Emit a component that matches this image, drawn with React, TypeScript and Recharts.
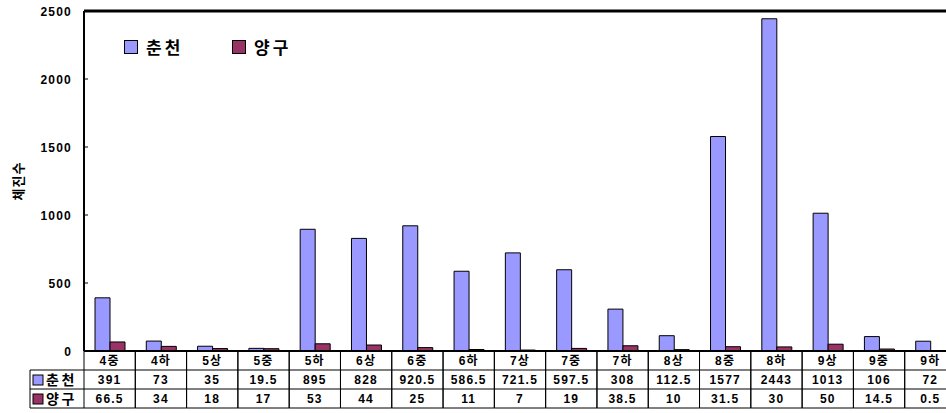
import React from "react";
import {
  BarChart,
  Bar,
  XAxis,
  YAxis,
  Legend,
  ReferenceLine,
} from "recharts";

const categories = [
  "4중", "4하", "5상", "5중", "5하", "6상", "6중", "6하", "7상",
  "7중", "7하", "8상", "8중", "8하", "9상", "9중", "9하",
];
const chuncheon = [
  391, 73, 35, 19.5, 895, 828, 920.5, 586.5, 721.5, 597.5, 308, 112.5, 1577,
  2443, 1013, 106, 72,
];
const yanggu = [
  66.5, 34, 18, 17, 53, 44, 25, 11, 7, 19, 38.5, 10, 31.5, 30, 50, 14.5, 0.5,
];
const yTicks = [0, 500, 1000, 1500, 2000, 2500];
const seriesNames = ["춘천", "양구"];
const yLabel = "체진수";

const BLUE = "#9999ff";
const RED = "#993366";
const FONT = "'Liberation Sans', Arial, 'Noto Sans CJK KR', sans-serif";

const CHART_W = 958;
const CHART_H = 413;
const Y_W = 84;
const M_RIGHT = 2;
const BAND = (CHART_W - Y_W - M_RIGHT) / categories.length;
const ROW = 19;
const LEG_COL = 54;

const data = categories.map((name, i) => ({
  name,
  [seriesNames[0]]: chuncheon[i],
  [seriesNames[1]]: yanggu[i],
}));

const colors = [BLUE, RED];
const rows = [chuncheon, yanggu];

// x-axis ticks double as the data table under the plot
function TableTick(props: any) {
  const { x, y, index, payload } = props;
  const left = x - BAND / 2;
  const right = x + BAND / 2;
  const textStyle = { fontFamily: FONT, fontWeight: 700, fontSize: 12, letterSpacing: 1.2 };
  return (
    <g>
      <line x1={left} x2={left} y1={y} y2={y + ROW * 3} stroke="#000" />
      <line x1={right} x2={right} y1={y} y2={y + ROW * 3} stroke="#000" />
      {[1, 2, 3].map((r) => (
        <line key={r} x1={left} x2={right} y1={y + ROW * r} y2={y + ROW * r} stroke="#000" />
      ))}
      <text x={x} y={y + 14} textAnchor="middle" style={textStyle} fill="#000">
        {payload.value}
      </text>
      {rows.map((vals, r) => (
        <text
          key={r}
          x={x}
          y={y + ROW * (r + 1) + 14}
          textAnchor="middle"
          style={textStyle}
          fill="#000"
        >
          {String(vals[index])}
        </text>
      ))}
      {index === 0 && (
        <g>
          <line x1={left - LEG_COL} x2={left - LEG_COL} y1={y + ROW} y2={y + ROW * 3} stroke="#000" />
          {[1, 2, 3].map((r) => (
            <line key={r} x1={left - LEG_COL} x2={left} y1={y + ROW * r} y2={y + ROW * r} stroke="#000" />
          ))}
          {seriesNames.map((s, r) => (
            <g key={s}>
              <rect
                x={left - LEG_COL + 3}
                y={y + ROW * (r + 1) + 5}
                width={10}
                height={10}
                fill={colors[r]}
                stroke="#000"
              />
              <text
                x={left - LEG_COL + 16}
                y={y + ROW * (r + 1) + 15}
                style={{ fontFamily: FONT, fontWeight: 700, fontSize: 14, letterSpacing: 2.5 }}
                fill="#000"
              >
                {s}
              </text>
            </g>
          ))}
        </g>
      )}
    </g>
  );
}

function YTick(props: any) {
  const { x, y, payload } = props;
  return (
    <g>
      <line x1={x + 12} x2={x + 16} y1={y} y2={y} stroke="#000" />
      <text
        x={x}
        y={y + 5}
        textAnchor="end"
        style={{ fontFamily: FONT, fontWeight: 700, fontSize: 12, letterSpacing: 1.2 }}
        fill="#000"
      >
        {payload.value}
      </text>
    </g>
  );
}

function YLabel(props: any) {
  const { viewBox } = props;
  const cx = viewBox.x + 18;
  const cy = viewBox.y + viewBox.height / 2;
  return (
    <text
      x={cx}
      y={cy}
      transform={`rotate(-90 ${cx} ${cy})`}
      textAnchor="middle"
      dominantBaseline="central"
      style={{ fontFamily: FONT, fontWeight: 700, fontSize: 13, letterSpacing: 1 }}
      fill="#000"
    >
      {yLabel}
    </text>
  );
}

function TopLegend(props: any) {
  const payload = [...(props.payload || [])].sort(
    (a: any, b: any) => seriesNames.indexOf(a.value) - seriesNames.indexOf(b.value)
  );
  return (
    <div style={{ display: "flex", fontFamily: FONT, fontWeight: 700 }}>
      {payload.map((entry: any) => (
        <div
          key={entry.value}
          style={{ display: "flex", alignItems: "center", width: 108 }}
        >
          <span
            style={{
              display: "inline-block",
              width: 12,
              height: 12,
              background: entry.color,
              border: "1px solid #000",
              marginRight: 8,
            }}
          />
          <span style={{ fontSize: 17, letterSpacing: 3, color: "#000" }}>
            {entry.value}
          </span>
        </div>
      ))}
    </div>
  );
}

export default function App() {
  return (
    <div
      style={{
        position: "absolute",
        left: 0,
        top: 0,
        width: 946,
        height: 413,
        overflow: "hidden",
        background: "#fff",
      }}
    >
      <BarChart
        width={CHART_W}
        height={CHART_H}
        data={data}
        margin={{ top: 11, right: M_RIGHT, bottom: 0, left: 0 }}
        barSize={15}
        barGap={0}
      >
        <XAxis
          dataKey="name"
          height={CHART_H - 351}
          axisLine={{ stroke: "#000", strokeWidth: 2 }}
          tickLine={false}
          tickSize={0}
          tickMargin={0}
          interval={0}
          tick={<TableTick />}
        />
        <YAxis
          width={Y_W}
          domain={[0, 2500]}
          ticks={yTicks}
          axisLine={{ stroke: "#000", strokeWidth: 2 }}
          tickLine={false}
          tickSize={0}
          tickMargin={12}
          tick={<YTick />}
          label={<YLabel />}
        />
        <ReferenceLine y={2500} stroke="#000" strokeWidth={3} />
        <Legend
          layout="horizontal"
          verticalAlign="middle"
          align="center"
          content={<TopLegend />}
          wrapperStyle={{ top: 34, left: 124, width: 300, height: 20 }}
        />
        {seriesNames.map((s, i) => (
          <Bar
            key={s}
            dataKey={s}
            name={s}
            fill={colors[i]}
            stroke="#000"
            strokeWidth={1}
            isAnimationActive={false}
          />
        ))}
      </BarChart>
    </div>
  );
}
